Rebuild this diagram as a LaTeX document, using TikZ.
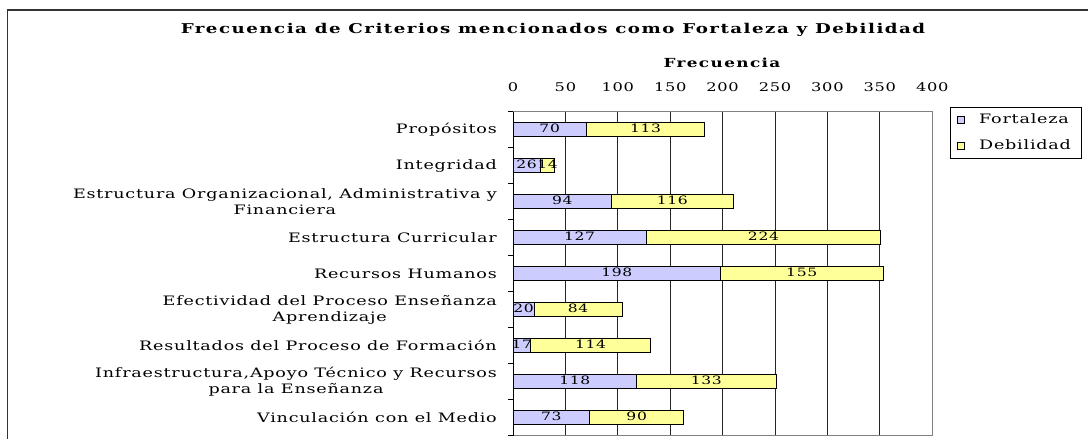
\documentclass[tikz,border=0pt]{standalone}
\usepackage{fontspec}
\setmainfont{DejaVu Serif}[FakeStretch=1.35, LetterSpace=6]
\newfontfamily\titlefont{DejaVu Serif}[FakeStretch=1.35, LetterSpace=11]
\usetikzlibrary{positioning}
\definecolor{fortblue}{RGB}{204, 204, 255}
\definecolor{debyellow}{RGB}{255, 255, 153}
\definecolor{framegray}{RGB}{128, 128, 128}

\begin{document}
\begin{tikzpicture}[x=1pt, y=-1pt,
  catlab/.style={anchor=east, align=center, font=\fontsize{13}{16}\selectfont, inner sep=0pt},
  vallab/.style={font=\fontsize{11.5}{11.5}\selectfont, inner sep=0pt},
  axlab/.style={font=\fontsize{12}{12}\selectfont, inner sep=0pt},
  fort/.style={draw=black, fill=fortblue, line width=0.9pt},
  deb/.style={draw=black, fill=debyellow, line width=0.9pt},
  gridline/.style={line width=0.7pt, black!85},
]
\useasboundingbox (0,0) rectangle (1088,439);
\clip (0,0) rectangle (1088,439);

% Chart frame (right and bottom edges fall outside)
\draw[line width=1.4pt, black!80] (7.5,439) -- (7.5,10) -- (1088,10);

% Titles
\node[font=\titlefont\bfseries\fontsize{13.5}{13.5}\selectfont] (titulo) at (553,30)
  {Frecuencia de Criterios mencionados como Fortaleza y Debilidad};
\node[font=\titlefont\bfseries\fontsize{12.5}{12.5}\selectfont] (eje) at (722,63) {Frecuencia};

% Plot area, 1 unit = one count
\begin{scope}[shift={(513,0)}, x=1.048pt]
% Grid and frame
\draw[gridline] (50,111.7) -- (50,435.7);
\draw[gridline] (100,111.7) -- (100,435.7);
\draw[gridline] (150,111.7) -- (150,435.7);
\draw[gridline] (200,111.7) -- (200,435.7);
\draw[gridline] (250,111.7) -- (250,435.7);
\draw[gridline] (300,111.7) -- (300,435.7);
\draw[gridline] (350,111.7) -- (350,435.7);
\draw[framegray, line width=1pt] (0,111.7) rectangle (400,435.7);
\draw[black, line width=1pt] (0,111.7) -- (0,435.7);
\foreach \t in {111.7,147.7,183.7,219.7,255.7,291.7,327.7,363.7,399.7,435.7}
  \draw[black, line width=0.8pt] (0,\t) -- (-5,\t);

% Axis values
\node[axlab] (x0) at (0,87.5) {0};
\node[axlab] (x50) at (50,87.5) {50};
\node[axlab] (x100) at (100,87.5) {100};
\node[axlab] (x150) at (150,87.5) {150};
\node[axlab] (x200) at (200,87.5) {200};
\node[axlab] (x250) at (250,87.5) {250};
\node[axlab] (x300) at (300,87.5) {300};
\node[axlab] (x350) at (350,87.5) {350};
\node[axlab] (x400) at (400,87.5) {400};

% Bars Fortaleza
\draw[fort] (0,122.7) rectangle (70,136.7);
\draw[fort] (0,158.7) rectangle (26,172.7);
\draw[fort] (0,194.7) rectangle (94,208.7);
\draw[fort] (0,230.7) rectangle (127,244.7);
\draw[fort] (0,266.7) rectangle (198,280.7);
\draw[fort] (0,302.7) rectangle (20,316.7);
\draw[fort] (0,338.7) rectangle (17,352.7);
\draw[fort] (0,374.7) rectangle (118,388.7);
\draw[fort] (0,410.7) rectangle (73,424.7);

% Bars Debilidad
\draw[deb] (70,122.7) rectangle (183,136.7);
\draw[deb] (26,158.7) rectangle (40,172.7);
\draw[deb] (94,194.7) rectangle (210,208.7);
\draw[deb] (127,230.7) rectangle (351,244.7);
\draw[deb] (198,266.7) rectangle (353,280.7);
\draw[deb] (20,302.7) rectangle (104,316.7);
\draw[deb] (17,338.7) rectangle (131,352.7);
\draw[deb] (118,374.7) rectangle (251,388.7);
\draw[deb] (73,410.7) rectangle (163,424.7);

% Values
\node[vallab] (f1) at (35,128) {70};
\node[vallab] (d1) at (126.5,128) {113};
\node[vallab] (f2) at (13,164) {26};
\node[vallab] (d2) at (33,164) {14};
\node[vallab] (f3) at (47,200) {94};
\node[vallab] (d3) at (152,200) {116};
\node[vallab] (f4) at (63.5,236) {127};
\node[vallab] (d4) at (239,236) {224};
\node[vallab] (f5) at (99,272) {198};
\node[vallab] (d5) at (275.5,272) {155};
\node[vallab] (f6) at (10,308) {20};
\node[vallab] (d6) at (62,308) {84};
\node[vallab] (f7) at (8.5,344) {17};
\node[vallab] (d7) at (74,344) {114};
\node[vallab] (f8) at (59,380) {118};
\node[vallab] (d8) at (184.5,380) {133};
\node[vallab] (f9) at (36.5,416) {73};
\node[vallab] (d9) at (118,416) {90};
\end{scope}

% Criteria
\node[catlab] (c1) at (497,129.7) {Propósitos};
\node[catlab] (c2) at (497,165.7) {Integridad};
\node[catlab] (c3) at (497,201.7) {Estructura Organizacional, Administrativa y\\Financiera};
\node[catlab] (c4) at (497,237.7) {Estructura Curricular};
\node[catlab] (c5) at (497,273.7) {Recursos Humanos};
\node[catlab] (c6) at (497,309.7) {Efectividad del Proceso Enseñanza\\Aprendizaje};
\node[catlab] (c7) at (497,345.7) {Resultados del Proceso de Formación};
\node[catlab] (c8) at (497,381.7) {Infraestructura,Apoyo Técnico y Recursos\\para la Enseñanza};
\node[catlab] (c9) at (497,417.7) {Vinculación con el Medio};

% Legend
\draw[black, line width=0.8pt] (950,107.7) rectangle (1081,158);
\draw[fort] (957.5,116) rectangle (964.5,123);
\draw[deb] (957.5,142.5) rectangle (964.5,149.5);
\node[catlab, anchor=west] (lf) at (979,119) {Fortaleza};
\node[catlab, anchor=west] (ld) at (979,145) {Debilidad};
\end{tikzpicture}
\end{document}
